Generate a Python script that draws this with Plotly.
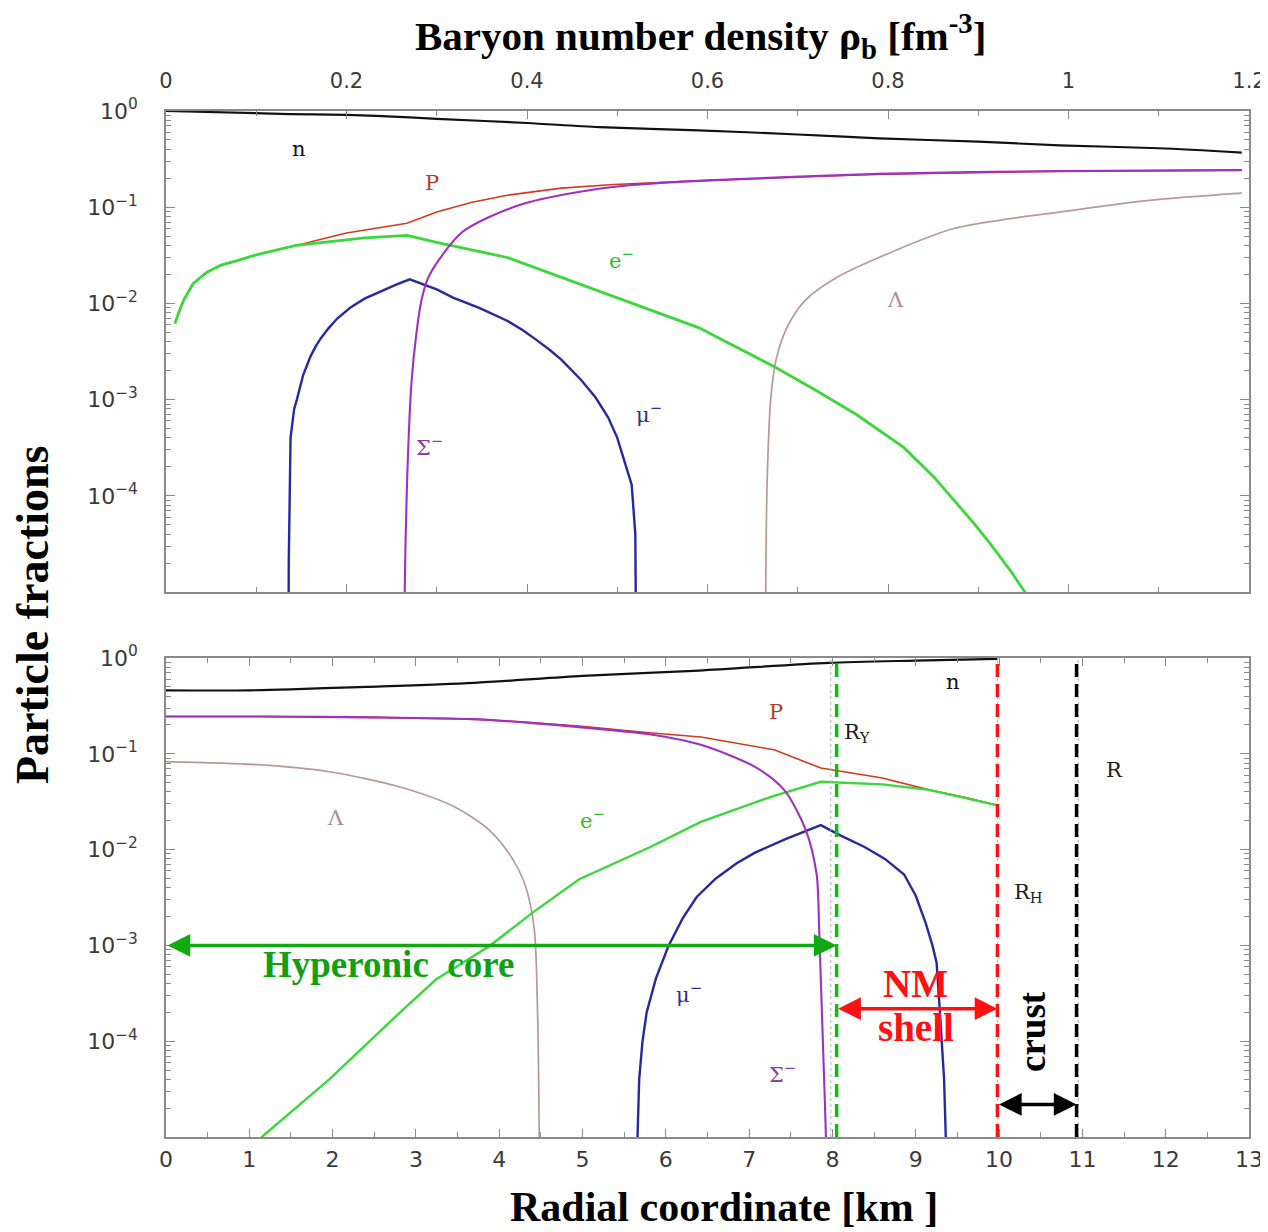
import plotly.graph_objects as go
from plotly.subplots import make_subplots

# ---------------- data: top panel (x = baryon density, fm^-3) ----------------
n_top_rho = [0, 0.137, 0.2, 0.27, 0.3, 0.4, 0.48, 0.59, 0.7, 0.79, 0.9, 0.99, 1.1, 1.192]
n_top = [1.0, 0.93, 0.91, 0.86, 0.83, 0.75, 0.68, 0.63, 0.57, 0.52, 0.48, 0.44, 0.41, 0.37]

p_top_rho = [0.01, 0.02, 0.03, 0.045, 0.061, 0.08, 0.1, 0.144, 0.2, 0.267, 0.3, 0.338, 0.378,
             0.438, 0.496, 0.59, 0.79, 0.99, 1.192]
p_top = [0.0062, 0.011, 0.016, 0.021, 0.025, 0.028, 0.032, 0.04, 0.054, 0.068, 0.089, 0.112, 0.133,
         0.158, 0.172, 0.188, 0.22, 0.236, 0.243]

e_top_rho = [0.01, 0.015, 0.02, 0.03, 0.045, 0.061, 0.08, 0.1, 0.144, 0.22, 0.267, 0.3, 0.378, 0.48,
             0.59, 0.674, 0.72, 0.765, 0.817, 0.85, 0.873, 0.895, 0.913, 0.935, 0.955]
e_top = [0.0062, 0.0085, 0.011, 0.016, 0.021, 0.025, 0.028, 0.032, 0.04, 0.048, 0.051, 0.043, 0.030, 0.0135,
         0.0056, 0.0022, 1.25e-3, 7e-4, 3.2e-4, 1.6e-4, 9e-5, 5.2e-5, 3.2e-5, 1.7e-5, 9e-6]

mu_top_rho = [0.1355, 0.136, 0.138, 0.142, 0.145, 0.152, 0.16, 0.166, 0.172, 0.18, 0.19, 0.204, 0.22,
              0.24, 0.255, 0.27, 0.3, 0.318, 0.347, 0.378, 0.395, 0.41, 0.425, 0.438, 0.45, 0.46, 0.476,
              0.49, 0.50, 0.51, 0.516, 0.52, 0.521, 0.522]
mu_top = [1e-7, 2e-5, 4e-4, 8e-4, 1.0e-3, 1.8e-3, 2.8e-3, 3.6e-3, 4.4e-3, 5.5e-3, 7e-3, 9e-3, 1.12e-2,
          1.37e-2, 1.57e-2, 1.78e-2, 1.4e-2, 1.15e-2, 9e-3, 6.6e-3, 5.3e-3, 4.2e-3, 3.3e-3, 2.6e-3, 2.0e-3,
          1.6e-3, 1.05e-3, 6.5e-4, 4e-4, 2e-4, 1.3e-4, 4e-5, 1e-5, 1e-7]

sig_top_rho = [0.264, 0.2645, 0.267, 0.272, 0.277, 0.283, 0.29, 0.302, 0.327, 0.358, 0.398, 0.457,
               0.516, 0.6, 0.79, 0.99, 1.192]
sig_top = [1e-7, 1e-5, 1.3e-4, 1.5e-3, 4.5e-3, 0.0107, 0.018, 0.028, 0.054, 0.079, 0.11, 0.144,
           0.17, 0.19, 0.222, 0.238, 0.243]

lam_top_rho = [0.664, 0.6645, 0.666, 0.67, 0.676, 0.688, 0.708, 0.745, 0.79, 0.873, 0.99, 1.09, 1.192]
lam_top = [1e-7, 1e-5, 1.3e-4, 1e-3, 2.6e-3, 5.6e-3, 0.0107, 0.019, 0.03, 0.06, 0.089, 0.118, 0.14]

# ---------------- data: bottom panel (x = radial coordinate, km) ----------------
n_bot_r = [0, 1.0, 2.4, 3.7, 5.0, 6.4, 7.95, 9.0, 9.98]
n_bot = [0.46, 0.46, 0.50, 0.55, 0.65, 0.74, 0.89, 0.94, 0.98]

p_bot_r = [0, 1.1, 2.5, 3.67, 4.3, 4.96, 5.8, 6.42, 7.3, 7.86, 8.6, 9.16, 9.6, 9.98]
p_bot = [0.245, 0.245, 0.24, 0.23, 0.215, 0.195, 0.166, 0.15, 0.11, 0.071, 0.056, 0.042, 0.035, 0.029]

sig_bot_r = [0, 1.1, 2.5, 3.67, 4.3, 4.96, 5.8, 6.42, 7.07, 7.42, 7.68, 7.81, 7.84, 7.86, 7.9, 7.93, 7.94]
sig_bot = [0.245, 0.245, 0.24, 0.23, 0.213, 0.19, 0.16, 0.124, 0.073, 0.042, 0.016, 5.5e-3, 1.5e-3,
           4.4e-4, 4e-5, 5e-6, 1e-7]

e_bot_r = [1.05, 1.15, 1.96, 2.81, 3.24, 3.88, 4.4, 4.96, 5.82, 6.42, 7.28, 7.86, 8.6, 9.16, 9.98]
e_bot = [5e-6, 1e-5, 4e-5, 2e-4, 4.4e-4, 9.8e-4, 2.2e-3, 4.9e-3, 0.0107, 0.0195, 0.036, 0.051, 0.048,
         0.042, 0.029]

mu_bot_r = [5.655, 5.66, 5.68, 5.72, 5.77, 5.88, 6.03, 6.2, 6.37, 6.6, 6.85, 7.07, 7.45, 7.86, 8.1, 8.38,
            8.63, 8.86, 9.0, 9.12, 9.2, 9.25, 9.29, 9.34, 9.36, 9.365]
mu_bot = [1e-7, 1e-5, 4e-5, 1e-4, 2e-4, 4.5e-4, 9.8e-4, 1.9e-3, 3.2e-3, 5e-3, 7.2e-3, 9.3e-3, 1.3e-2, 0.018,
          0.014, 0.0107, 8e-3, 5.5e-3, 3.3e-3, 1.7e-3, 1e-3, 6.6e-4, 2e-4, 4e-5, 1e-5, 1e-7]

lam_bot_r = [0, 1.1, 1.96, 2.81, 3.46, 3.88, 4.14, 4.31, 4.42, 4.46, 4.48, 4.485]
lam_bot = [0.083, 0.077, 0.065, 0.045, 0.028, 0.016, 8.5e-3, 4.3e-3, 1.5e-3, 2e-4, 1e-5, 1e-7]

# radii (km)
R_Y = 8.05
R_H = 9.98
R_STAR = 10.93
R_Y_dot = 7.98
R_STAR_dot = 10.95

# tick labels
y_tickvals = [1, 1e-1, 1e-2, 1e-3, 1e-4]
y_ticktext = ["10<sup>0</sup>", "10<sup>−1</sup>", "10<sup>−2</sup>", "10<sup>−3</sup>", "10<sup>−4</sup>"]
top_tickvals = [0, 0.2, 0.4, 0.6, 0.8, 1.0, 1.2]
top_ticktext = ["0", "0.2", "0.4", "0.6", "0.8", "1", "1.2"]
bot_tickvals = list(range(0, 14))
bot_ticktext = [str(v) for v in bot_tickvals]

# ---------------- styles ----------------
C_N = "#111111"
C_P = "#d23a22"
C_E = "#3ad83a"
C_MU = "#2828a0"
C_SIG = "#a030c0"
C_LAM = "#b89a94"
AX = "#8a8a8a"
TICKFONT = dict(family="DejaVu Sans", size=22, color="#3a3a3a")
TICKFONT_TOP = dict(family="DejaVu Sans", size=21, color="#3a3a3a")
LABFONT = "DejaVu Serif"

H, W = 1232, 1268
OFF = 8  # default page body margin
ML, MR, MT, MB = 166 - OFF, 19 + OFF, 111 - OFF, 95 + OFF
ph = H - MT - MB
pw = W - ML - MR
top_dom = [(1137 - 592) / ph, 1.0]
bot_dom = [0.0, (1137 - 658) / ph]

fig = make_subplots(rows=2, cols=1)

def add(x, y, color, width, row, spline=False):
    line = dict(color=color, width=width)
    if spline:
        line.update(shape="spline", smoothing=0.8)
    fig.add_trace(go.Scatter(x=x, y=y, mode="lines", line=line,
                             showlegend=False, hoverinfo="skip"), row=row, col=1)

# top
add(n_top_rho, n_top, C_N, 2.2, 1, True)
add(p_top_rho, p_top, C_P, 1.6, 1)
add(lam_top_rho, lam_top, C_LAM, 1.7, 1, True)
add(mu_top_rho, mu_top, C_MU, 2.4, 1)
add(e_top_rho, e_top, C_E, 2.8, 1)
add(sig_top_rho, sig_top, C_SIG, 2.1, 1, True)
# bottom
add(n_bot_r, n_bot, C_N, 2.2, 2, True)
add(p_bot_r, p_bot, C_P, 1.6, 2)
add(lam_bot_r, lam_bot, C_LAM, 1.7, 2, True)
add(mu_bot_r, mu_bot, C_MU, 2.4, 2)
add(e_bot_r, e_bot, C_E, 2.4, 2)
add(sig_bot_r, sig_bot, C_SIG, 2.1, 2, True)

minor_y = [m * 10 ** k for k in range(-5, 0) for m in range(2, 10)]

yax = dict(type="log", range=[-5, 0], tickvals=y_tickvals, ticktext=y_ticktext, automargin=False,
           ticks="inside", ticklen=9, tickcolor=AX, tickwidth=1, mirror="ticks",
           showline=True, linecolor=AX, linewidth=1.5, showgrid=False, zeroline=False,
           tickfont=TICKFONT, ticklabelstandoff=22,
           minor=dict(ticks="inside", ticklen=5, tickcolor=AX, tickvals=minor_y, showgrid=False))

fig.update_layout(
    width=W, height=H, plot_bgcolor="white", paper_bgcolor="white",
    margin=dict(l=ML, r=MR, t=MT, b=MB),
    xaxis=dict(domain=[0, 1], range=[0, 1.2], side="top", tickvals=top_tickvals, ticktext=top_ticktext,
               automargin=False,
               ticks="inside", ticklen=8, tickcolor=AX, mirror="ticks", showline=True, linecolor=AX,
               linewidth=1.5, showgrid=False, zeroline=False, tickfont=TICKFONT_TOP, ticklabelstandoff=13,
               minor=dict(ticks="inside", ticklen=5, tickcolor=AX, dtick=0.1, showgrid=False)),
    xaxis2=dict(domain=[0, 1], range=[0, 13], tickvals=bot_tickvals, ticktext=bot_ticktext,
                automargin=False,
                ticks="inside", ticklen=8, tickcolor=AX, mirror="ticks", showline=True, linecolor=AX,
                linewidth=1.5, showgrid=False, zeroline=False, tickfont=TICKFONT, ticklabelstandoff=2,
                minor=dict(ticks="inside", ticklen=5, tickcolor=AX, dtick=0.5, showgrid=False)),
    yaxis=dict(domain=top_dom, **yax),
    yaxis2=dict(domain=bot_dom, **yax),
)

# vertical lines (bottom panel)
for xv in [R_Y_dot, R_H, R_STAR_dot]:
    fig.add_shape(type="line", xref="x2", yref="y2 domain", x0=xv, x1=xv, y0=0, y1=1,
                  line=dict(color="#b0b0b0", width=1, dash="dot"))
for xv, col in [(R_Y, "#11bb11"), (R_H, "#ff1111"), (R_STAR, "#000000")]:
    fig.add_shape(type="line", xref="x2", yref="y2 domain", x0=xv, x1=xv, y0=0, y1=1,
                  line=dict(color=col, width=3.5, dash="13px,7px"))

# double arrows
def darrow(x0, x1, ylog, color):
    fig.add_annotation(x=x1, y=ylog, ax=x0, ay=ylog, xref="x2", yref="y2", axref="x2", ayref="y2",
                       text="", showarrow=True, arrowhead=2, startarrowhead=2, arrowside="end+start",
                       arrowsize=1.3, startarrowsize=1.3, arrowwidth=3.5, arrowcolor=color)

darrow(0, R_Y, -3.0, "#11aa11")
darrow(R_Y, R_H, -3.66, "#ff1111")
darrow(R_H, R_STAR, -4.66, "#000000")

def txt(x, y, s, color, size, xref, yref, family="Liberation Serif", bold=False, angle=0):
    if bold:
        s = "<b>" + s + "</b>"
    fig.add_annotation(x=x, y=y, xref=xref, yref=yref, text=s, showarrow=False, textangle=angle,
                       xanchor="center", yanchor="middle",
                       font=dict(family=family, size=size, color=color))

# band labels
txt(2.67, -3.2, "Hyperonic  core", "#11a011", 37, "x2", "y2", bold=True)
txt(9.0, -3.4, "NM", "#ff1111", 39, "x2", "y2", bold=True)
txt(9.0, -3.86, "shell", "#ff1111", 39, "x2", "y2", bold=True)
txt(10.4, -3.9, "crust", "#000000", 37, "x2", "y2", bold=True, angle=-90)

# curve labels, top panel
txt(0.147, -0.4, "n", "#111111", 21, "x", "y", family=LABFONT)
txt(0.295, -0.75, "P", "#b03a2e", 21, "x", "y", family=LABFONT)
txt(0.505, -1.54, "e<sup>−</sup>", "#33bb33", 21, "x", "y", family=LABFONT)
txt(0.808, -1.96, "Λ", "#b08a8a", 21, "x", "y", family=LABFONT)
txt(0.535, -3.14, "μ<sup>−</sup>", "#303090", 21, "x", "y", family=LABFONT)
txt(0.292, -3.48, "Σ<sup>−</sup>", "#8a40a0", 21, "x", "y", family=LABFONT)

# curve labels, bottom panel
txt(9.45, -0.25, "n", "#111111", 21, "x2", "y2", family=LABFONT)
txt(7.32, -0.56, "P", "#b03a2e", 21, "x2", "y2", family=LABFONT)
txt(8.3, -0.78, "R<sub>Y</sub>", "#222222", 21, "x2", "y2", family=LABFONT)
txt(11.38, -1.17, "R", "#222222", 21, "x2", "y2", family=LABFONT)
txt(2.03, -1.67, "Λ", "#b08a8a", 21, "x2", "y2", family=LABFONT)
txt(5.12, -1.68, "e<sup>−</sup>", "#33bb33", 21, "x2", "y2", family=LABFONT)
txt(10.35, -2.45, "R<sub>H</sub>", "#222222", 21, "x2", "y2", family=LABFONT)
txt(6.28, -3.5, "μ<sup>−</sup>", "#303090", 21, "x2", "y2", family=LABFONT)
txt(7.4, -4.33, "Σ<sup>−</sup>", "#8a40a0", 21, "x2", "y2", family=LABFONT)

# axis titles (positions in page pixels converted to paper coords)
def px_x(px):
    return (px - 166) / pw

def px_y(py):
    return (1137 - py) / ph

txt(px_x(700), px_y(36), "Baryon number density ρ<sub>b</sub> [fm<sup>-3</sup>]", "#000000", 41,
    "paper", "paper", bold=True)
txt(px_x(724), px_y(1207), "Radial coordinate [km ]", "#000000", 42, "paper", "paper", bold=True)
txt(px_x(32), px_y(615), "Particle fractions", "#000000", 46, "paper", "paper", bold=True, angle=-90)

fig.write_html("out.html")
